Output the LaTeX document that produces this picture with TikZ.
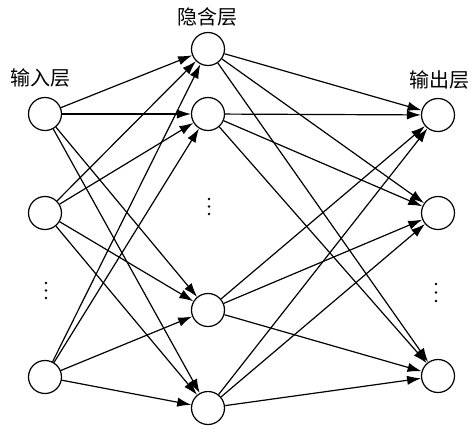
\documentclass[tikz,border=0pt]{standalone}
\usepackage{fontspec}
\setmainfont{Noto Sans CJK SC}
\usetikzlibrary{arrows.meta}

\tikzset{every picture/.style={line width=0.9pt}}
\tikzset{neuron/.style={draw, circle, inner sep=0pt, minimum size=24.75pt},
  conn/.style={-{Latex[length=10.5pt,width=7pt]}},
  layername/.style={inner sep=0.75pt, font=\fontsize{15}{18}\selectfont}}

\begin{document}
\begin{tikzpicture}[x=0.75pt,y=0.75pt,yscale=-1,xscale=1]
\path[use as bounding box] (0,0) rectangle (471,429);

%Shape: Circle [input layer]
\node [neuron] (i1) at (45,114) {};
\node [neuron] (i2) at (45,213) {};
\node [neuron] (i3) at (45,377) {};
%Shape: Circle [hidden layer]
\node [neuron] (h1) at (208,49) {};
\node [neuron] (h2) at (208,114) {};
\node [neuron] (h3) at (208,310) {};
\node [neuron] (h4) at (208,408) {};
%Shape: Circle [output layer]
\node [neuron] (o1) at (438,115) {};
\node [neuron] (o2) at (438,213) {};
\node [neuron] (o3) at (438,376) {};

% Text Node
\node [layername] (tin) at (40,78) {输入层};
% Text Node
\node [layername] (thid) at (207,17) {隐含层};
% Text Node
\node [layername] (tout) at (439,80) {输出层};

%Shape: Dots
\fill (46,283) circle (1.3) (46,290.5) circle (1.3) (46,298) circle (1.3) ;
\fill (209,199) circle (1.3) (209,206.5) circle (1.3) (209,214) circle (1.3) ;
\fill (436,284) circle (1.3) (436,292.5) circle (1.3) (436,301) circle (1.3) ;

% Connection
\draw [conn] (i1) -- (h1) ;
\draw [conn] (i1) -- (h2) ;
\draw [conn] (i1) -- (h3) ;
\draw [conn] (i1) -- (h4) ;
% Connection
\draw [conn] (i2) -- (h1) ;
\draw [conn] (i2) -- (h2) ;
\draw [conn] (i2) -- (h3) ;
\draw [conn] (i2) -- (h4) ;
% Connection
\draw [conn] (i3) -- (h1) ;
\draw [conn] (i3) -- (h2) ;
\draw [conn] (i3) -- (h3) ;
\draw [conn] (i3) -- (h4) ;
% Connection
\draw [conn] (h1) -- (o1) ;
\draw [conn] (h1) -- (o2) ;
\draw [conn] (h1) -- (o3) ;
% Connection
\draw [conn] (h2) -- (o1) ;
\draw [conn] (h2) -- (o2) ;
\draw [conn] (h2) -- (o3) ;
% Connection
\draw [conn] (h3) -- (o1) ;
\draw [conn] (h3) -- (o2) ;
\draw [conn] (h3) -- (o3) ;
% Connection
\draw [conn] (h4) -- (o1) ;
\draw [conn] (h4) -- (o2) ;
\draw [conn] (h4) -- (o3) ;

\end{tikzpicture}
\end{document}
